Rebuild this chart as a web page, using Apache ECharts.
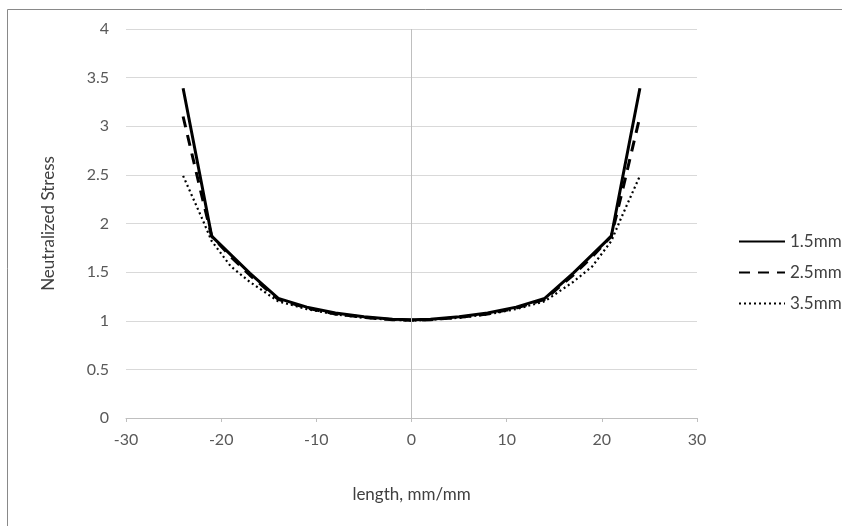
<!DOCTYPE html>
<html>
<head>
<meta charset="utf-8">
<script src="https://cdn.jsdelivr.net/npm/echarts@6/dist/echarts.min.js"></script>
<style>
  html, body { margin: 0; padding: 0; background: #fff; }
  #chart { width: 842px; height: 526px; }
</style>
</head>
<body>
<div id="chart"></div>
<script>
// positions along the specimen (mm/mm)
const lengths = [-24, -22, -21, -19, -17, -14, -11, -8, -5, -2, 0, 2, 5, 8, 11, 14, 17, 19, 21, 22, 24];
const stress15 = [3.39, 2.38, 1.87, 1.68, 1.49, 1.23, 1.14, 1.08, 1.04, 1.015, 1.01, 1.015, 1.04, 1.08, 1.14, 1.23, 1.49, 1.68, 1.87, 2.38, 3.39];
const stress25 = [3.10, 2.27, 1.87, 1.66, 1.47, 1.22, 1.13, 1.07, 1.035, 1.01, 1.005, 1.01, 1.035, 1.07, 1.13, 1.22, 1.47, 1.66, 1.87, 2.27, 3.10];
const stress35 = [2.49, 2.05, 1.82, 1.56, 1.40, 1.20, 1.12, 1.065, 1.03, 1.01, 1.00, 1.01, 1.03, 1.065, 1.12, 1.20, 1.40, 1.56, 1.82, 2.05, 2.49];
const seriesNames = ["1.5mm", "2.5mm", "3.5mm"];

const pairs = ys => lengths.map((x, i) => [x, ys[i]]);
const font = "Lato, 'Open Sans', sans-serif";

const chart = echarts.init(document.getElementById("chart"));
const option = {
  animation: false,
  textStyle: { fontFamily: font },
  graphic: [{
    type: "rect",
    shape: { x: 7.5, y: 9.5, width: 840, height: 520 },
    style: { fill: "none", stroke: "#898989", lineWidth: 1 }
  }],
  grid: { left: 126, right: 145, top: 29, bottom: 108 },
  legend: {
    orient: "vertical",
    left: 733,
    top: 228,
    itemWidth: 46,
    itemHeight: 8,
    itemGap: 14,
    itemStyle: { opacity: 0 },
    textStyle: { fontSize: 17, color: "#404040", fontFamily: font },
    data: seriesNames
  },
  xAxis: {
    type: "value",
    min: -30, max: 30, interval: 10,
    name: "length, mm/mm",
    nameLocation: "middle",
    nameGap: 68,
    nameTextStyle: { fontSize: 17, color: "#404040" },
    axisLine: { onZero: false, lineStyle: { color: "#bfbfbf" } },
    axisTick: { show: true, length: 4, lineStyle: { color: "#bfbfbf" } },
    axisLabel: { fontSize: 16, color: "#595959", margin: 14 },
    splitLine: { show: false }
  },
  yAxis: {
    type: "value",
    min: 0, max: 4, interval: 0.5,
    name: "Neutralized Stress",
    nameLocation: "middle",
    nameGap: 69,
    nameTextStyle: { fontSize: 17, color: "#404040" },
    axisLine: { show: false },
    axisTick: { show: false },
    axisLabel: { fontSize: 16, color: "#595959", margin: 17 },
    splitLine: { lineStyle: { color: "#d9d9d9", width: 1 } }
  },
  series: [
    {
      name: seriesNames[0], type: "line", data: pairs(stress15),
      symbol: "none", z: 4,
      lineStyle: { color: "#000", width: 3, type: "solid" },
      itemStyle: { color: "#000" },
      markLine: {
        silent: true, symbol: "none", label: { show: false },
        lineStyle: { color: "#bfbfbf", width: 1, type: "solid" },
        data: [{ xAxis: 0 }]
      }
    },
    {
      name: seriesNames[1], type: "line", data: pairs(stress25),
      symbol: "none", z: 3,
      lineStyle: { color: "#000", width: 3, type: [11, 8] },
      itemStyle: { color: "#000" }
    },
    {
      name: seriesNames[2], type: "line", data: pairs(stress35),
      symbol: "none", z: 2,
      lineStyle: { color: "#000", width: 2.2, type: [2, 3] },
      itemStyle: { color: "#000" }
    }
  ]
};
chart.setOption(option);
</script>
</body>
</html>
